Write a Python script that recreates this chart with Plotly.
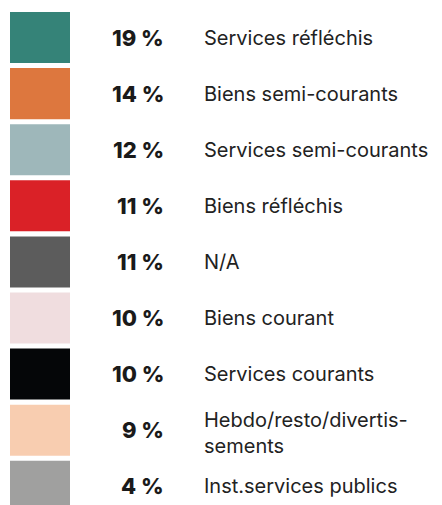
import plotly.graph_objects as go

# share of each category (%), top to bottom
categories = ["Services réfléchis", "Biens semi-courants", "Services semi-courants",
              "Biens réfléchis", "N/A", "Biens courant", "Services courants",
              "Hebdo/resto/divertis-<br>sements", "Inst.services publics"]
shares = [19, 14, 12, 11, 11, 10, 10, 9, 4]
colors = ["#358378", "#DD773E", "#9EB7BA", "#DA2127", "#5C5C5C",
          "#F0DDDF", "#050608", "#F8CDB0", "#A0A09F"]

fig = go.Figure(go.Bar(
    y=categories, x=[1] * len(categories), orientation="h",
    marker=dict(color=colors, line_width=0),
    base=0, hoverinfo="skip", showlegend=False,
))

# percentages (bold, right aligned) and labels
for cat, val in zip(categories, shares):
    fig.add_annotation(x=2.6, y=cat, text=f"{val} %", showarrow=False,
                       xanchor="right",
                       font=dict(family="Inter", size=22, weight=800, color="#1a1a1a"))
    # wrapped label sits a little lower than its row centre
    shift = -3 if "<br>" in cat else 0
    fig.add_annotation(x=3.2, y=cat, text=cat, showarrow=False, yshift=shift,
                       xanchor="left", align="left",
                       font=dict(family="Inter", size=20, color="#222222"))

fig.update_layout(
    width=442, height=505, margin=dict(l=0, r=0, t=0, b=0),
    paper_bgcolor="white", plot_bgcolor="white", bargap=0.09,
    xaxis=dict(range=[-2 / 60, 440 / 60], visible=False),
    yaxis=dict(type="category", categoryarray=categories, range=[8.476, -0.526], visible=False),
)

fig.write_html("out.html")
